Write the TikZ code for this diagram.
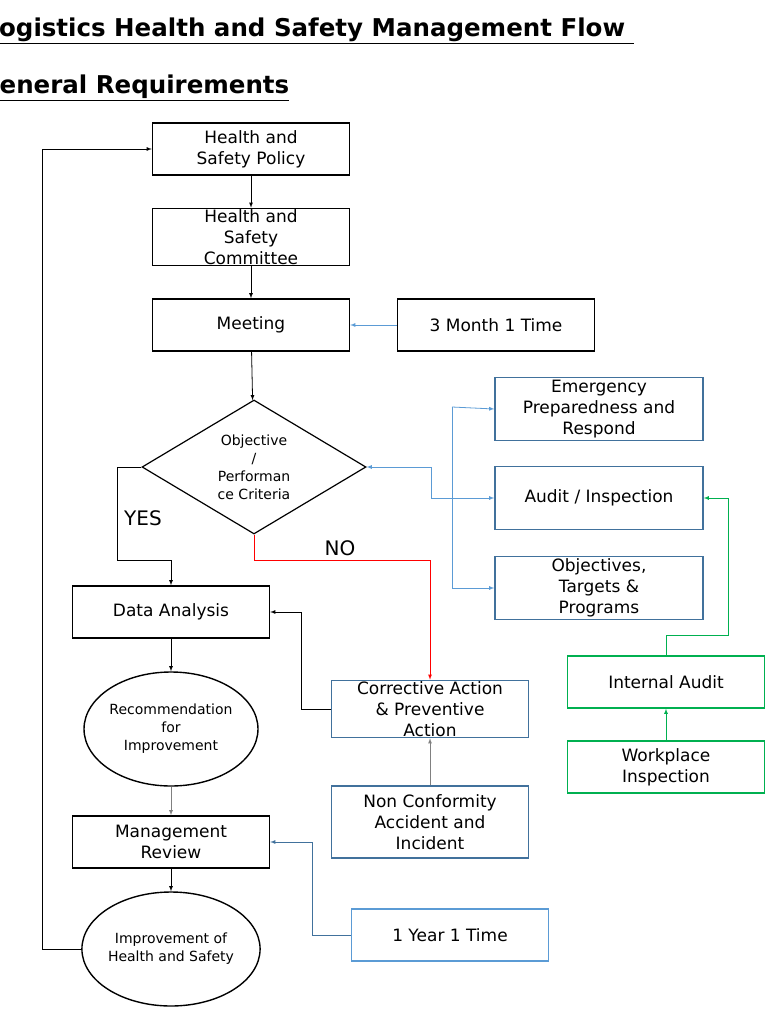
\documentclass[tikz,border=0pt]{standalone}
\usepackage{fontspec}
\setmainfont{DejaVu Sans}
\usetikzlibrary{shapes.geometric}
\definecolor{stepblue}{HTML}{41719C}
\definecolor{linkblue}{HTML}{5B9BD5}
\definecolor{auditgreen}{HTML}{00B050}
\def\stepnode{\node[flowbox]}
\def\roundnode{\node[round]}
\tikzset{
  flowbox/.style={draw=black,line width=1.4pt,minimum width=197pt,minimum height=52pt,align=center,font=\fontsize{17}{21}\selectfont,inner sep=1pt},
  round/.style={ellipse,draw=black,line width=1.4pt,minimum width=146pt,minimum height=114pt,align=center,font=\fontsize{14}{18}\selectfont,inner sep=0pt},
  flow/.style={-latex,line width=0.8pt},
}
\begin{document}
\begin{tikzpicture}[x=1pt,y=-1pt]
\useasboundingbox (0,0) rectangle (768,1024);
\clip (0,0) rectangle (768,1024);
% headings
\node[anchor=west,font=\bfseries\fontsize{24.5}{28}\selectfont] (title) at (-20,31) {\underline{Logistics Health and Safety Management Flow\ }};
\node[anchor=west,font=\bfseries\fontsize{24.5}{28}\selectfont] (sub) at (-24,88) {\underline{General Requirements}};

% main column
\stepnode (policy) at (251,149) {Health and\\Safety Policy};
\stepnode (committee) at (251,237) {Health and\\Safety\\Committee};
\stepnode (meeting) at (251,325) {Meeting};
\stepnode (month) at (496,325) {3 Month 1 Time};
\node[diamond,draw=black,line width=1.2pt,minimum width=224pt,minimum height=134pt,aspect=1.67,inner sep=0pt,align=center,font=\fontsize{14}{18}\selectfont] (criteria) at (254,467) {Objective\\/\\Performan\\ce Criteria};

% right column
\stepnode[draw=stepblue,minimum width=208pt,minimum height=63pt] (emergency) at (599,409) {Emergency\\Preparedness and\\Respond};
\stepnode[draw=stepblue,minimum width=208pt,minimum height=63pt] (audit) at (599,498) {Audit / Inspection};
\stepnode[draw=stepblue,minimum width=208pt,minimum height=63pt] (targets) at (599,588) {Objectives,\\Targets \&\\Programs};
\stepnode[draw=auditgreen] (internal) at (666,682) {Internal Audit};
\stepnode[draw=auditgreen] (workplace) at (666,767) {Workplace\\Inspection};

% lower part
\stepnode (analysis) at (171,612) {Data Analysis};
\roundnode (recommend) at (171,729) {Recommendation\\for\\Improvement};
\stepnode[draw=stepblue] (corrective) at (430,709) {Corrective Action\\\& Preventive\\Action};
\stepnode[draw=stepblue,minimum height=72pt] (nonconf) at (430,822) {Non Conformity\\Accident and\\Incident};
\stepnode (review) at (171,842) {Management\\Review};
\roundnode (improve) at (171,949) {Improvement of\\Health and Safety};
\stepnode[draw=linkblue] (year) at (450,935) {1 Year 1 Time};

% connectors
\draw[flow] (policy) -- (committee);
\draw[flow] (committee) -- (meeting);
\draw[flow,linkblue] (month) -- (meeting);
\draw[flow] (meeting) -- (criteria);
\draw[flow] (improve.west) -- (42,949) |- (policy.west);
\draw[flow] (criteria.west) -- (117,467) |- (171,560) -- (analysis.north);
\node[font=\fontsize{20}{24}\selectfont] (yes) at (143,518) {YES};
\draw[flow,red] (criteria.south) |- (430,560) -- (corrective.north);
\node[font=\fontsize{20}{24}\selectfont] (no) at (340,548) {NO};
\coordinate (fork) at (431,498);
\draw[flow,linkblue] (fork) -- (audit.west);
\draw[flow,linkblue] (fork) |- (criteria.east);
\draw[flow,linkblue] (452,407) -- (452,588) -- (targets.west);
\draw[flow,linkblue] (452,407) -- (emergency.west);
\draw[flow] (analysis) -- (recommend);
\draw[flow,gray] (recommend) -- (review);
\draw[flow] (review) -- (improve);
\draw[flow] (corrective.west) -- (301,709) |- (analysis.east);
\draw[flow,gray] (nonconf) -- (corrective);
\draw[flow,stepblue] (year.west) -- (312,935) |- (review.east);
\draw[flow,auditgreen] (workplace) -- (internal);
\draw[flow,auditgreen] (internal.north) -- (666,635) -| (728,498) -- (audit.east);
\end{tikzpicture}
\end{document}
